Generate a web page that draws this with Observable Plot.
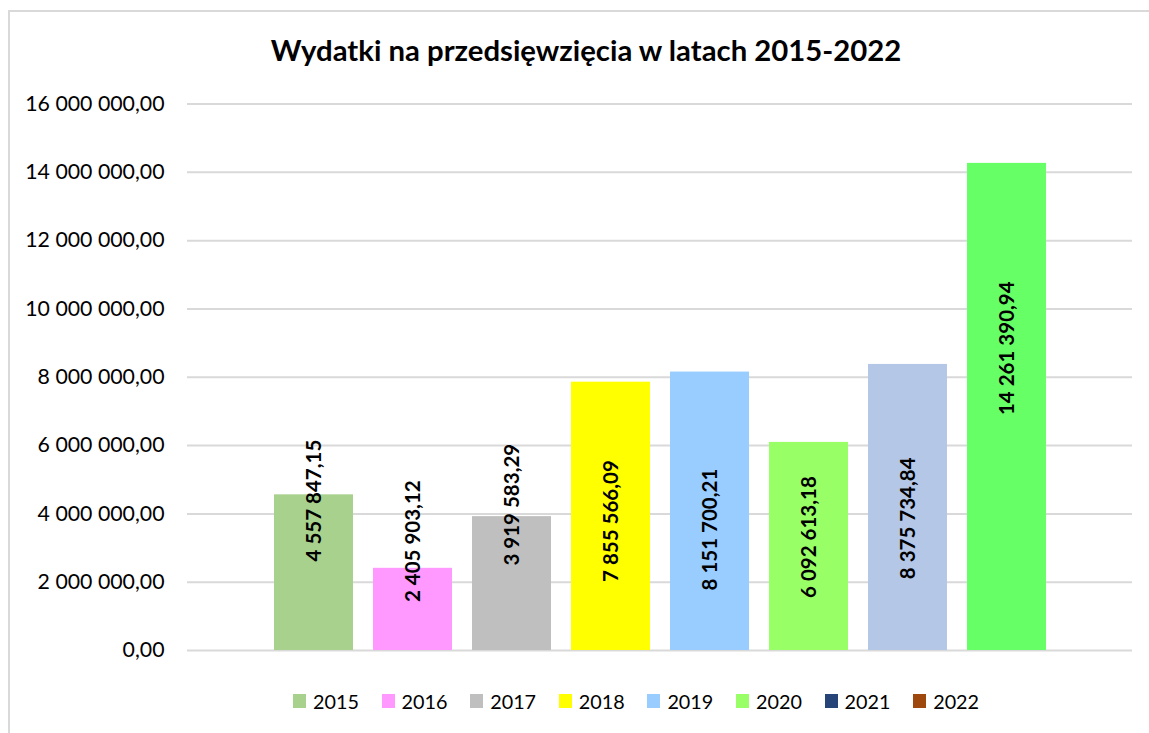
<!DOCTYPE html>
<html>
<head>
<meta charset="utf-8">
<script src="https://cdn.jsdelivr.net/npm/d3@7"></script>
<script src="https://cdn.jsdelivr.net/npm/@observablehq/plot@0.6"></script>
<style>
  html, body { margin: 0; padding: 0; background: #fff; }
  #wrap { position: relative; width: 1149px; height: 733px; overflow: hidden; background: #fff; font-family: Lato, "Open Sans", sans-serif; }
  #frame { position: absolute; left: 8px; top: 10px; right: -20px; bottom: -20px; border-left: 2px solid #d9d9d9; border-top: 2px solid #d9d9d9; }
  #title { position: absolute; left: 0; width: 1172px; top: 32px; text-align: center; font-weight: 700; font-size: 29.3px; color: #000; }
  #chart { position: absolute; left: 0; top: 0; }
  #legend { position: absolute; left: 293px; top: 689px; display: flex; align-items: center; }
  .item { display: flex; align-items: center; width: 88.6px; font-size: 19.8px; color: #000; }
  .sw { width: 13px; height: 14px; margin-right: 7px; flex: none; }
</style>
</head>
<body>
<div id="wrap">
  <div id="frame"></div>
  <div id="chart"></div>
  <div id="title"></div>
  <div id="legend"></div>
</div>
<script>
const titleText = "Wydatki na przedsięwzięcia w latach 2015-2022";
const years = ["2015", "2016", "2017", "2018", "2019", "2020", "2021", "2022"];
const values = [4557847.15, 2405903.12, 3919583.29, 7855566.09, 8151700.21, 6092613.18, 8375734.84, 14261390.94];
const labelAt = [4390000, 3200000, 4270000, 3790000, 3540000, 3320000, 3870000, 8850000];
const barColors = ["#a9d18e", "#ff99ff", "#bfbfbf", "#ffff00", "#99ccff", "#99ff66", "#b4c7e7", "#66ff66"];
const legendColors = ["#a9d18e", "#ff99ff", "#bfbfbf", "#ffff00", "#99ccff", "#99ff66", "#264478", "#9e480e"];
const yTicks = [0, 2000000, 4000000, 6000000, 8000000, 10000000, 12000000, 14000000, 16000000];

const locale = d3.formatLocale({decimal: ",", thousands: " ", grouping: [3], currency: ["", ""]});
const fmt = locale.format(",.2f");

const data = years.map((y, i) => ({year: y, value: values[i], labelY: labelAt[i], color: barColors[i]}));

const chart = Plot.plot({
  width: 1149,
  height: 733,
  marginLeft: 187,
  marginRight: 17,
  marginTop: 103.5,
  marginBottom: 83,
  style: {fontFamily: "Lato, 'Open Sans', sans-serif", fontSize: "21px", color: "#000", background: "transparent", overflow: "visible"},
  x: {type: "band", domain: years, paddingInner: 0.205, paddingOuter: 0.84, axis: null},
  y: {domain: [0, 16000000], axis: null},
  color: {type: "identity"},
  marks: [
    Plot.ruleY(yTicks, {stroke: "#d9d9d9", strokeWidth: 2}),
    Plot.axisY({ticks: yTicks, tickFormat: fmt, tickSize: 0, tickPadding: 23, label: null, fontSize: 21.3}),
    Plot.barY(data, {x: "year", y: "value", fill: "color"}),
    Plot.text(data, {x: "year", y: "labelY", text: d => fmt(d.value), rotate: -90, fontWeight: "bold", fontSize: 20.5, fill: "#000"})
  ]
});
document.getElementById("chart").appendChild(chart);
document.getElementById("title").textContent = titleText;

const legend = document.getElementById("legend");
years.forEach((y, i) => {
  const item = document.createElement("div");
  item.className = "item";
  const sw = document.createElement("span");
  sw.className = "sw";
  sw.style.background = legendColors[i];
  const t = document.createElement("span");
  t.textContent = y;
  item.appendChild(sw);
  item.appendChild(t);
  legend.appendChild(item);
});
</script>
</body>
</html>
